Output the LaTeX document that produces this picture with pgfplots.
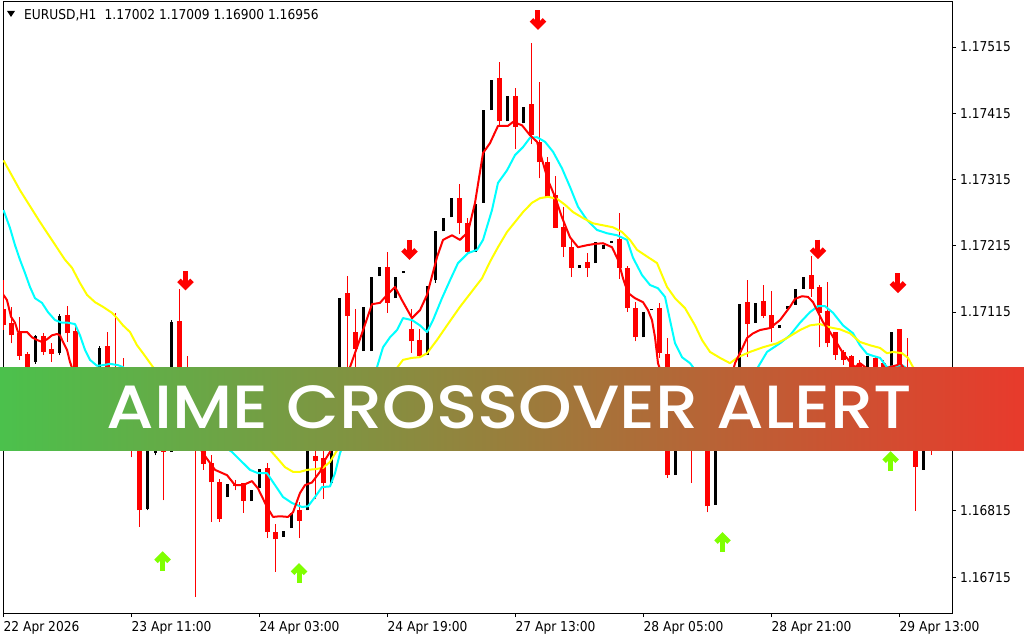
\documentclass[border=0pt]{standalone}
\usepackage{fontspec}
\setmainfont{DejaVu Sans}[FakeStretch=0.9]
\IfFontExistsTF{Poppins Medium}{\newfontfamily\bannerfont{Poppins Medium}}{\newfontfamily\bannerfont{Poppins}[FakeBold=1.5]}
\usepackage{graphicx}
\usepackage{pgfplots}
\usepackage{pgfplotstable}
\pgfplotsset{compat=1.18}
\definecolor{maCyan}{RGB}{0,255,255}
\definecolor{maYellow}{RGB}{255,255,0}
\definecolor{arrGreen}{RGB}{127,255,0}
\definecolor{bannerL}{RGB}{75,193,76}
\definecolor{bannerR}{RGB}{232,58,44}

\pgfdeclareplotmark{arrdown}{%
  \pgfsetlinewidth{5pt}\pgfsetbuttcap\pgfsetmiterjoin
  \pgfpathmoveto{\pgfpoint{0pt}{9.5pt}}\pgfpathlineto{\pgfpoint{0pt}{-5pt}}\pgfusepathqstroke
  \pgfpathmoveto{\pgfpoint{-6.5pt}{0pt}}\pgfpathlineto{\pgfpoint{0pt}{-6.5pt}}\pgfpathlineto{\pgfpoint{6.5pt}{0pt}}\pgfusepathqstroke}
\pgfdeclareplotmark{arrup}{%
  \pgfsetlinewidth{5pt}\pgfsetbuttcap\pgfsetmiterjoin
  \pgfpathmoveto{\pgfpoint{0pt}{-9.5pt}}\pgfpathlineto{\pgfpoint{0pt}{5pt}}\pgfusepathqstroke
  \pgfpathmoveto{\pgfpoint{-6.5pt}{0pt}}\pgfpathlineto{\pgfpoint{0pt}{6.5pt}}\pgfpathlineto{\pgfpoint{6.5pt}{0pt}}\pgfusepathqstroke}

% bearish candles (red)
\pgfplotstableread{
k O H L C
0 1.17120 1.17163 1.17088 1.17095
1 1.17099 1.17123 1.17068 1.17080
2 1.17083 1.17108 1.17043 1.17049
3 1.17052 1.17055 1.16994 1.17005
5 1.17079 1.17083 1.17050 1.17055
6 1.17059 1.17068 1.17040 1.17052
8 1.17111 1.17124 1.17070 1.17083
9 1.17086 1.17092 1.16982 1.16990
10 1.16997 1.17012 1.16937 1.16952
13 1.17064 1.17085 1.16982 1.16990
14 1.17005 1.17114 1.16967 1.16982
15 1.17012 1.17046 1.16952 1.16982
16 1.16982 1.16997 1.16896 1.16937
17 1.16945 1.16967 1.16791 1.16816
20 1.16952 1.16982 1.16831 1.16904
22 1.17102 1.17150 1.16922 1.16937
23 1.17012 1.17049 1.16922 1.16952
24 1.16952 1.16982 1.16685 1.16922
25 1.16922 1.16937 1.16877 1.16886
26 1.16887 1.16899 1.16798 1.16858
27 1.16858 1.16863 1.16798 1.16803
29 1.16856 1.16862 1.16846 1.16852
30 1.16857 1.16857 1.16812 1.16830
33 1.16880 1.16887 1.16774 1.16783
34 1.16783 1.16795 1.16723 1.16772
37 1.16816 1.16828 1.16774 1.16800
39 1.16898 1.16922 1.16833 1.16890
40 1.16895 1.16922 1.16833 1.16857
43 1.17144 1.17169 1.17032 1.17109
44 1.17085 1.17120 1.17032 1.17059
48 1.17183 1.17206 1.17114 1.17129
51 1.17089 1.17120 1.17053 1.17071
52 1.17073 1.17089 1.17046 1.17049
57 1.17287 1.17308 1.17233 1.17249
58 1.17249 1.17257 1.17204 1.17206
62 1.17468 1.17492 1.17394 1.17403
64 1.17441 1.17453 1.17361 1.17394
66 1.17429 1.17521 1.17369 1.17382
67 1.17372 1.17462 1.17317 1.17341
68 1.17341 1.17349 1.17289 1.17289
69 1.17292 1.17320 1.17242 1.17242
70 1.17243 1.17274 1.17198 1.17213
71 1.17213 1.17224 1.17168 1.17182
73 1.17191 1.17204 1.17168 1.17182
77 1.17225 1.17264 1.17165 1.17182
78 1.17182 1.17185 1.17115 1.17121
79 1.17121 1.17130 1.17071 1.17077
82 1.17121 1.17129 1.17046 1.17053
83 1.17052 1.17076 1.16865 1.16869
85 1.16982 1.16997 1.16922 1.16937
86 1.16952 1.16982 1.16857 1.16922
87 1.16937 1.16967 1.16910 1.16914
88 1.16922 1.16952 1.16813 1.16822
93 1.17130 1.17163 1.17047 1.17097
95 1.17132 1.17156 1.17106 1.17109
96 1.17111 1.17147 1.17070 1.17091
101 1.17171 1.17200 1.17138 1.17150
102 1.17153 1.17156 1.17062 1.17114
103 1.17117 1.17160 1.17062 1.17068
104 1.17085 1.17085 1.17043 1.17050
105 1.17055 1.17058 1.17035 1.17043
106 1.17049 1.17050 1.17025 1.17031
107 1.17038 1.17043 1.17012 1.17020
109 1.17046 1.17047 1.17025 1.17031
110 1.17038 1.17043 1.17020 1.17031
112 1.17089 1.17089 1.16952 1.16967
113 1.16982 1.17076 1.16937 1.16952
114 1.16952 1.16967 1.16815 1.16881
116 1.17002 1.17009 1.16900 1.16956
}\bears

% bullish candles (black)
\pgfplotstableread{
k O H L C
4 1.17040 1.17080 1.17037 1.17079
7 1.17053 1.17112 1.17050 1.17109
11 1.16945 1.16982 1.16934 1.16975
12 1.16982 1.17064 1.16975 1.17061
18 1.16818 1.16929 1.16816 1.16922
19 1.16902 1.16960 1.16899 1.16952
21 1.16904 1.17103 1.16904 1.17100
28 1.16836 1.16856 1.16836 1.16856
31 1.16830 1.16846 1.16830 1.16846
32 1.16849 1.16878 1.16849 1.16878
35 1.16776 1.16785 1.16776 1.16785
36 1.16789 1.16812 1.16789 1.16812
38 1.16816 1.16929 1.16816 1.16922
41 1.16857 1.16990 1.16857 1.16982
42 1.16967 1.17136 1.16967 1.17136
45 1.17056 1.17123 1.17056 1.17123
46 1.17056 1.17168 1.17056 1.17168
47 1.17169 1.17183 1.17169 1.17183
49 1.17136 1.17168 1.17136 1.17168
50 1.17174 1.17177 1.17174 1.17177
53 1.17050 1.17154 1.17050 1.17154
54 1.17163 1.17237 1.17159 1.17237
55 1.17237 1.17257 1.17237 1.17257
56 1.17258 1.17287 1.17258 1.17287
59 1.17206 1.17278 1.17206 1.17278
60 1.17280 1.17420 1.17280 1.17420
61 1.17420 1.17465 1.17420 1.17465
63 1.17403 1.17441 1.17403 1.17441
65 1.17400 1.17424 1.17400 1.17424
72 1.17182 1.17186 1.17182 1.17186
74 1.17189 1.17221 1.17189 1.17221
75 1.17210 1.17216 1.17210 1.17216
76 1.17219 1.17222 1.17219 1.17222
80 1.17077 1.17115 1.17077 1.17115
81 1.17118 1.17120 1.17118 1.17120
84 1.16869 1.16990 1.16869 1.16982
89 1.16824 1.16960 1.16824 1.16952
90 1.16937 1.17005 1.16922 1.16997
91 1.16982 1.17028 1.16967 1.17025
92 1.17012 1.17127 1.17005 1.17127
94 1.17099 1.17129 1.17099 1.17129
97 1.17091 1.17095 1.17091 1.17095
98 1.17120 1.17124 1.17120 1.17124
99 1.17126 1.17150 1.17126 1.17150
100 1.17150 1.17168 1.17150 1.17168
108 1.17031 1.17049 1.17028 1.17049
111 1.17012 1.17085 1.17005 1.17085
115 1.16877 1.16990 1.16877 1.16982
}\bulls

\begin{document}
\begin{tikzpicture}
\useasboundingbox (0,0) rectangle (1024pt,640pt);
\fill[white] (0,0) rectangle (1024pt,640pt);
\begin{axis}[
  at={(3pt,27pt)}, anchor=south west,
  scale only axis, width=949pt, height=611pt,
  xmin=-0.0625, xmax=118.5625,
  ymin=1.16661, ymax=1.17583,
  axis line style={line width=1pt, black},
  tick align=outside, major tick length=4pt,
  tick style={line width=1pt, black},
  xtick={0,16,32,48,64,80,96,112},
  xticklabels={22 Apr 2026,23 Apr 11:00,24 Apr 03:00,24 Apr 19:00,27 Apr 13:00,28 Apr 05:00,28 Apr 21:00,29 Apr 13:00},
  ytick={1.16715,1.16815,1.16915,1.17015,1.17115,1.17215,1.17315,1.17415,1.17515},
  yticklabels={1.16715,1.16815,1.16915,1.17015,1.17115,1.17215,1.17315,1.17415,1.17515},
  xtick pos=bottom, ytick pos=right,
  xticklabel pos=lower, yticklabel pos=right,
  tick label style={font=\fontsize{13.6}{16}\selectfont},
  xticklabel style={anchor=base west, inner sep=0pt, yshift=-14pt},
  yticklabel style={anchor=west, inner sep=0pt, xshift=4pt},
  clip=true,
  candle/.style={draw=none, mark=none, forget plot, error bars/.cd, y dir=plus, y explicit, error mark=none},
]
% wicks
\addplot[candle, error bar style={draw=red, line width=1pt}]
  table[x=k, y=L, y error plus expr=\thisrow{H}-\thisrow{L}] {\bears};
\addplot[candle, error bar style={draw=black, line width=1pt}]
  table[x=k, y=L, y error plus expr=\thisrow{H}-\thisrow{L}] {\bulls};
% bodies
\addplot[candle, error bar style={draw=red, line width=5pt}]
  table[x=k, y=C, y error plus expr=\thisrow{O}-\thisrow{C}] {\bears};
\addplot[candle, error bar style={draw=black, line width=3pt}]
  table[x=k, y=O, y error plus expr=\thisrow{C}-\thisrow{O}] {\bulls};
% cyan MA
\addplot[maCyan, line width=2pt, mark=none, line join=round] coordinates {
(0,1.17269) (0.81,1.17242) (1.44,1.17216) (2.06,1.17194) (2.69,1.17174) (3.31,1.17153) (3.94,1.17136) (4.81,1.17129) (5.56,1.17115) (6.44,1.17103) (7.31,1.17099) (8.06,1.17099) (8.94,1.17097) (9.56,1.17080) (10.19,1.17058) (10.81,1.17043) (11.69,1.17034) (12.44,1.17035) (13.31,1.17037) (14.31,1.17035) (14.94,1.17032) (17.06,1.17012) (19.56,1.16990) (22.06,1.16967) (24.56,1.16945) (26.44,1.16922) (28.56,1.16904) (29.56,1.16892) (30.81,1.16877) (31.81,1.16872) (32.94,1.16872) (33.94,1.16854) (34.94,1.16836) (36.06,1.16827) (37.31,1.16821) (38.06,1.16822) (38.94,1.16836) (39.81,1.16851) (40.81,1.16852) (41.44,1.16872) (42.06,1.16902) (44.56,1.16982) (46.69,1.17032) (47.44,1.17062) (48.31,1.17077) (49.19,1.17088) (49.94,1.17106) (51.06,1.17103) (52.06,1.17095) (52.94,1.17085) (53.69,1.17103) (54.81,1.17136) (55.81,1.17163) (56.81,1.17189) (58.06,1.17204) (59.19,1.17209) (59.94,1.17224) (61.06,1.17269) (61.81,1.17310) (62.94,1.17329) (63.94,1.17352) (64.94,1.17364) (65.81,1.17378) (66.69,1.17379) (67.69,1.17372) (68.69,1.17357) (69.81,1.17332) (70.81,1.17304) (71.81,1.17274) (72.94,1.17254) (74.19,1.17239) (75.44,1.17234) (76.69,1.17231) (77.94,1.17224) (78.69,1.17197) (79.81,1.17171) (80.81,1.17156) (81.81,1.17151) (82.69,1.17138) (83.31,1.17103) (83.94,1.17068) (84.81,1.17047) (85.81,1.17038) (86.44,1.17028) (88.31,1.16997) (90.81,1.16990) (92.69,1.17005) (94.31,1.17032) (95.44,1.17055) (97.06,1.17068) (98.31,1.17080) (99.56,1.17099) (100.81,1.17115) (101.81,1.17124) (102.69,1.17124) (103.69,1.17114) (104.94,1.17095) (106.19,1.17083) (107.06,1.17065) (107.94,1.17052) (108.69,1.17049) (109.56,1.17046) (110.44,1.17032) (111.69,1.17034) (112.31,1.17035) (112.69,1.17032) (114.56,1.17012) (116.44,1.16994)
};
% yellow MA
\addplot[maYellow, line width=2pt, mark=none, line join=round] coordinates {
(0,1.17344) (2.06,1.17299) (4.56,1.17251) (7.69,1.17194) (8.56,1.17182) (9.56,1.17159) (10.44,1.17141) (11.44,1.17130) (12.44,1.17123) (13.56,1.17114) (14.19,1.17106) (14.94,1.17095) (15.81,1.17085) (16.69,1.17065) (17.44,1.17053) (18.69,1.17032) (20.81,1.17005) (23.31,1.16975) (25.81,1.16945) (28.31,1.16922) (30.81,1.16910) (33.31,1.16907) (34.19,1.16895) (35.19,1.16881) (36.19,1.16874) (37.06,1.16874) (37.94,1.16877) (38.94,1.16878) (39.94,1.16880) (40.81,1.16889) (41.56,1.16904) (45.19,1.16967) (49.19,1.17031) (49.94,1.17043) (51.06,1.17046) (52.06,1.17047) (52.94,1.17053) (54.19,1.17073) (55.44,1.17095) (57.06,1.17123) (59.81,1.17166) (60.81,1.17191) (61.81,1.17213) (62.94,1.17236) (63.94,1.17251) (64.94,1.17266) (66.06,1.17280) (67.06,1.17287) (68.06,1.17289) (69.19,1.17286) (70.19,1.17277) (71.19,1.17266) (72.44,1.17257) (73.69,1.17249) (74.94,1.17246) (76.19,1.17243) (77.31,1.17236) (78.31,1.17224) (79.19,1.17209) (80.56,1.17198) (81.69,1.17189) (82.31,1.17171) (82.94,1.17153) (83.94,1.17136) (85.19,1.17121) (86.44,1.17095) (87.31,1.17073) (88.31,1.17055) (89.56,1.17046) (90.81,1.17038) (91.81,1.17047) (93.31,1.17055) (94.94,1.17062) (96.69,1.17068) (97.94,1.17076) (99.56,1.17088) (100.81,1.17095) (102.06,1.17097) (103.31,1.17092) (104.56,1.17089) (105.81,1.17083) (107.06,1.17070) (108.31,1.17065) (109.56,1.17061) (110.44,1.17053) (111.19,1.17055) (112.31,1.17053) (113.06,1.17046) (113.69,1.17032) (115.19,1.17012) (116.44,1.16997)
};
% red MA
\addplot[red, line width=2pt, mark=none, line join=round] coordinates {
(0,1.17141) (0.44,1.17133) (0.94,1.17108) (1.44,1.17099) (1.81,1.17085) (2.94,1.17085) (3.56,1.17077) (4.19,1.17073) (4.81,1.17070) (5.44,1.17074) (6.06,1.17080) (6.69,1.17082) (7.06,1.17080) (7.44,1.17070) (7.94,1.17058) (8.31,1.17040) (8.56,1.17031) (9.56,1.17012) (12.06,1.16997) (14.56,1.16990) (17.06,1.16952) (19.56,1.16937) (22.06,1.16952) (23.94,1.16922) (24.94,1.16902) (26.44,1.16877) (27.94,1.16869) (28.94,1.16854) (29.94,1.16854) (31.06,1.16860) (31.81,1.16849) (32.94,1.16821) (33.69,1.16806) (34.56,1.16807) (35.56,1.16806) (36.19,1.16813) (37.06,1.16842) (37.69,1.16854) (38.56,1.16858) (39.56,1.16874) (40.19,1.16892) (40.81,1.16904) (43.31,1.17032) (44.81,1.17083) (46.06,1.17127) (47.06,1.17129) (47.94,1.17141) (48.94,1.17153) (49.81,1.17133) (51.06,1.17106) (52.06,1.17118) (52.94,1.17141) (54.19,1.17198) (54.94,1.17224) (56.06,1.17231) (57.06,1.17224) (58.06,1.17236) (58.94,1.17280) (59.94,1.17355) (60.81,1.17370) (61.81,1.17396) (63.06,1.17396) (63.69,1.17402) (64.81,1.17397) (65.81,1.17382) (66.69,1.17372) (67.44,1.17340) (68.06,1.17314) (68.94,1.17289) (69.81,1.17258) (70.81,1.17228) (71.81,1.17213) (72.94,1.17216) (73.94,1.17218) (74.94,1.17219) (76.06,1.17213) (76.81,1.17194) (77.44,1.17166) (78.06,1.17144) (78.94,1.17136) (79.94,1.17130) (80.56,1.17118) (81.06,1.17103) (81.44,1.17077) (81.81,1.17038) (83.31,1.16982) (85.81,1.16945) (87.06,1.16922) (88.94,1.16937) (90.19,1.16982) (91.44,1.17038) (92.06,1.17053) (92.94,1.17076) (93.69,1.17083) (94.56,1.17088) (95.81,1.17091) (97.06,1.17103) (98.31,1.17123) (98.94,1.17135) (99.81,1.17139) (100.56,1.17138) (101.19,1.17130) (101.81,1.17115) (102.44,1.17100) (103.31,1.17085) (104.19,1.17068) (104.94,1.17053) (105.81,1.17040) (106.44,1.17032) (107.06,1.17038) (107.81,1.17031) (109.56,1.17028) (111.69,1.17035) (112.06,1.17038) (113.31,1.17020) (114.56,1.16997) (116.06,1.16982)
};
% signal arrows
\addplot[red, only marks, mark=arrdown] coordinates {
(22.75,1.17163) (50.75,1.17209) (66.81,1.17556) (101.81,1.17210) (111.81,1.17159)
};
\addplot[arrGreen, only marks, mark=arrup] coordinates {
(19.88,1.16739) (36.94,1.16721) (89.88,1.16768) (110.88,1.16890)
};
\end{axis}
% banner
\shade[left color=bannerL, right color=bannerR] (0,190pt) rectangle (1024pt,272pt);
\node[anchor=base, inner sep=0pt, text=white] at (509.5pt,212pt)
  {\resizebox{805pt}{\height}{\bannerfont\fontsize{61}{61}\selectfont AIME CROSSOVER ALERT}};
% header
\fill[black] (7pt,629pt) -- (15pt,629pt) -- (11pt,623pt) -- cycle;
\node[anchor=base west, inner sep=0pt, font=\fontsize{13.6}{16}\selectfont] at (24pt,620pt)
  {EURUSD,H1\hspace{0.6em}1.17002 1.17009 1.16900 1.16956};
\end{tikzpicture}
\end{document}
